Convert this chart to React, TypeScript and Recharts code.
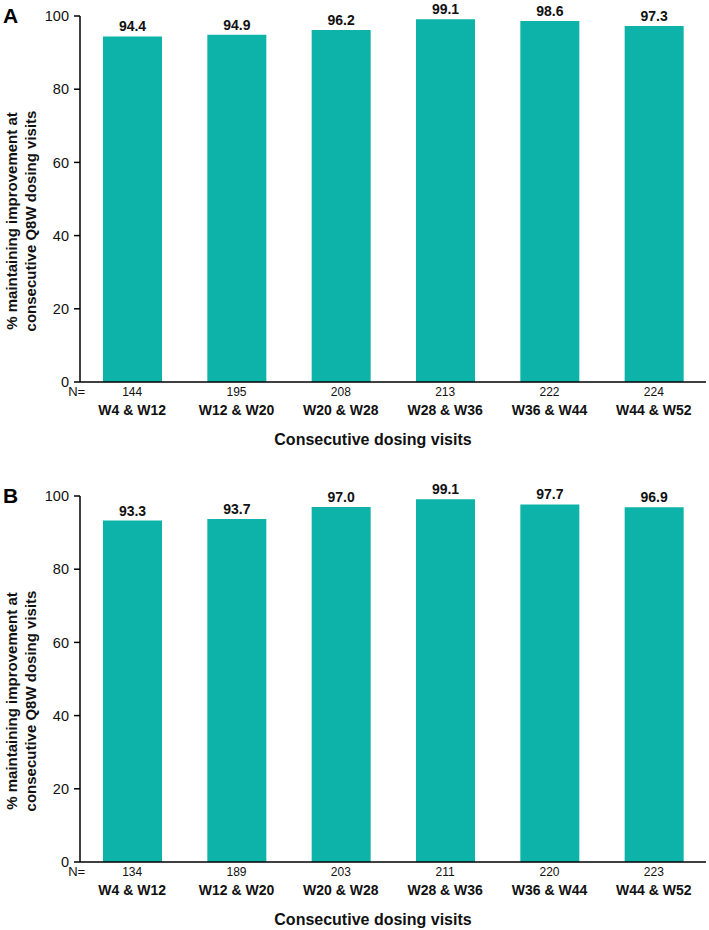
import { BarChart, Bar, XAxis, YAxis, LabelList } from "recharts";

const visits = ["W4 & W12", "W12 & W20", "W20 & W28", "W28 & W36", "W36 & W44", "W44 & W52"];
const pctA = [94.4, 94.9, 96.2, 99.1, 98.6, 97.3];
const nA = [144, 195, 208, 213, 222, 224];
const pctB = [93.3, 93.7, 97.0, 99.1, 97.7, 96.9];
const nB = [134, 189, 203, 211, 220, 223];
const yTicks = [0, 20, 40, 60, 80, 100];

const FONT = "'Liberation Sans', Arial, sans-serif";
const TEAL = "#0db3a9";

function XTick({ x, y, payload, index, ns }: any) {
  return (
    <g fontFamily={FONT}>
      {index === 0 && (
        <text x={x - 64} y={y + 14} fontSize={13} fill="#111">
          N=
        </text>
      )}
      <text x={x} y={y + 14} textAnchor="middle" fontSize={12} fill="#111">
        {ns[index]}
      </text>
      <text x={x} y={y + 33} textAnchor="middle" fontSize={14} fontWeight="bold" fill="#111">
        {payload.value}
      </text>
    </g>
  );
}

function XTitle({ viewBox }: any) {
  const { x, y, width } = viewBox;
  return (
    <text x={x + width / 2 - 20} y={y + 63} textAnchor="middle" fontFamily={FONT} fontSize={16} fontWeight="bold" fill="#111">
      Consecutive dosing visits
    </text>
  );
}

function YTitle({ viewBox }: any) {
  const cy = viewBox.y + viewBox.height / 2 + 22;
  return (
    <g fontFamily={FONT} fontSize={15} fontWeight="bold" fill="#111">
      <text transform={`translate(17, ${cy}) rotate(-90)`} textAnchor="middle">
        % maintaining improvement at
      </text>
      <text transform={`translate(36, ${cy}) rotate(-90)`} textAnchor="middle">
        consecutive Q8W dosing visits
      </text>
    </g>
  );
}

function Panel({ letter, pct, ns, top }: { letter: string; pct: number[]; ns: number[]; top: number }) {
  const data = visits.map((v, i) => ({ visit: v, pct: pct[i] }));
  return (
    <div style={{ position: "absolute", left: 0, top, width: 709, height: 450 }}>
      <div
        style={{
          position: "absolute",
          left: 3,
          top: 4,
          fontFamily: FONT,
          fontSize: 21,
          fontWeight: "bold",
          color: "#000",
        }}
      >
        {letter}
      </div>
      <BarChart width={709} height={450} data={data} margin={{ top: 16, right: 3, left: 0, bottom: 0 }}>
        <XAxis
          dataKey="visit"
          height={68}
          tickLine={false}
          tickSize={0}
          tickMargin={0}
          interval={0}
          axisLine={{ stroke: "#000", strokeWidth: 1.5 }}
          tick={<XTick ns={ns} />}
          label={{ content: <XTitle /> }}
        />
        <YAxis
          width={80}
          domain={[0, 100]}
          ticks={yTicks}
          tickSize={6}
          tickMargin={5}
          axisLine={{ stroke: "#000", strokeWidth: 1.5 }}
          tickLine={{ stroke: "#000", strokeWidth: 1.5 }}
          tick={{ fontFamily: FONT, fontSize: 14.5, fill: "#111" }}
          label={{ content: <YTitle /> }}
        />
        <Bar dataKey="pct" fill={TEAL} barSize={59} isAnimationActive={false}>
          <LabelList
            dataKey="pct"
            position="top"
            offset={5}
            formatter={(v: any) => Number(v).toFixed(1)}
            style={{ fontFamily: FONT, fontSize: 14, fontWeight: "bold", fill: "#111" }}
          />
        </Bar>
      </BarChart>
    </div>
  );
}

export default function App() {
  return (
    <div style={{ position: "absolute", left: 0, top: 0, width: 709, height: 930, background: "#fff" }}>
      <Panel letter="A" pct={pctA} ns={nA} top={0} />
      <Panel letter="B" pct={pctB} ns={nB} top={480} />
    </div>
  );
}
